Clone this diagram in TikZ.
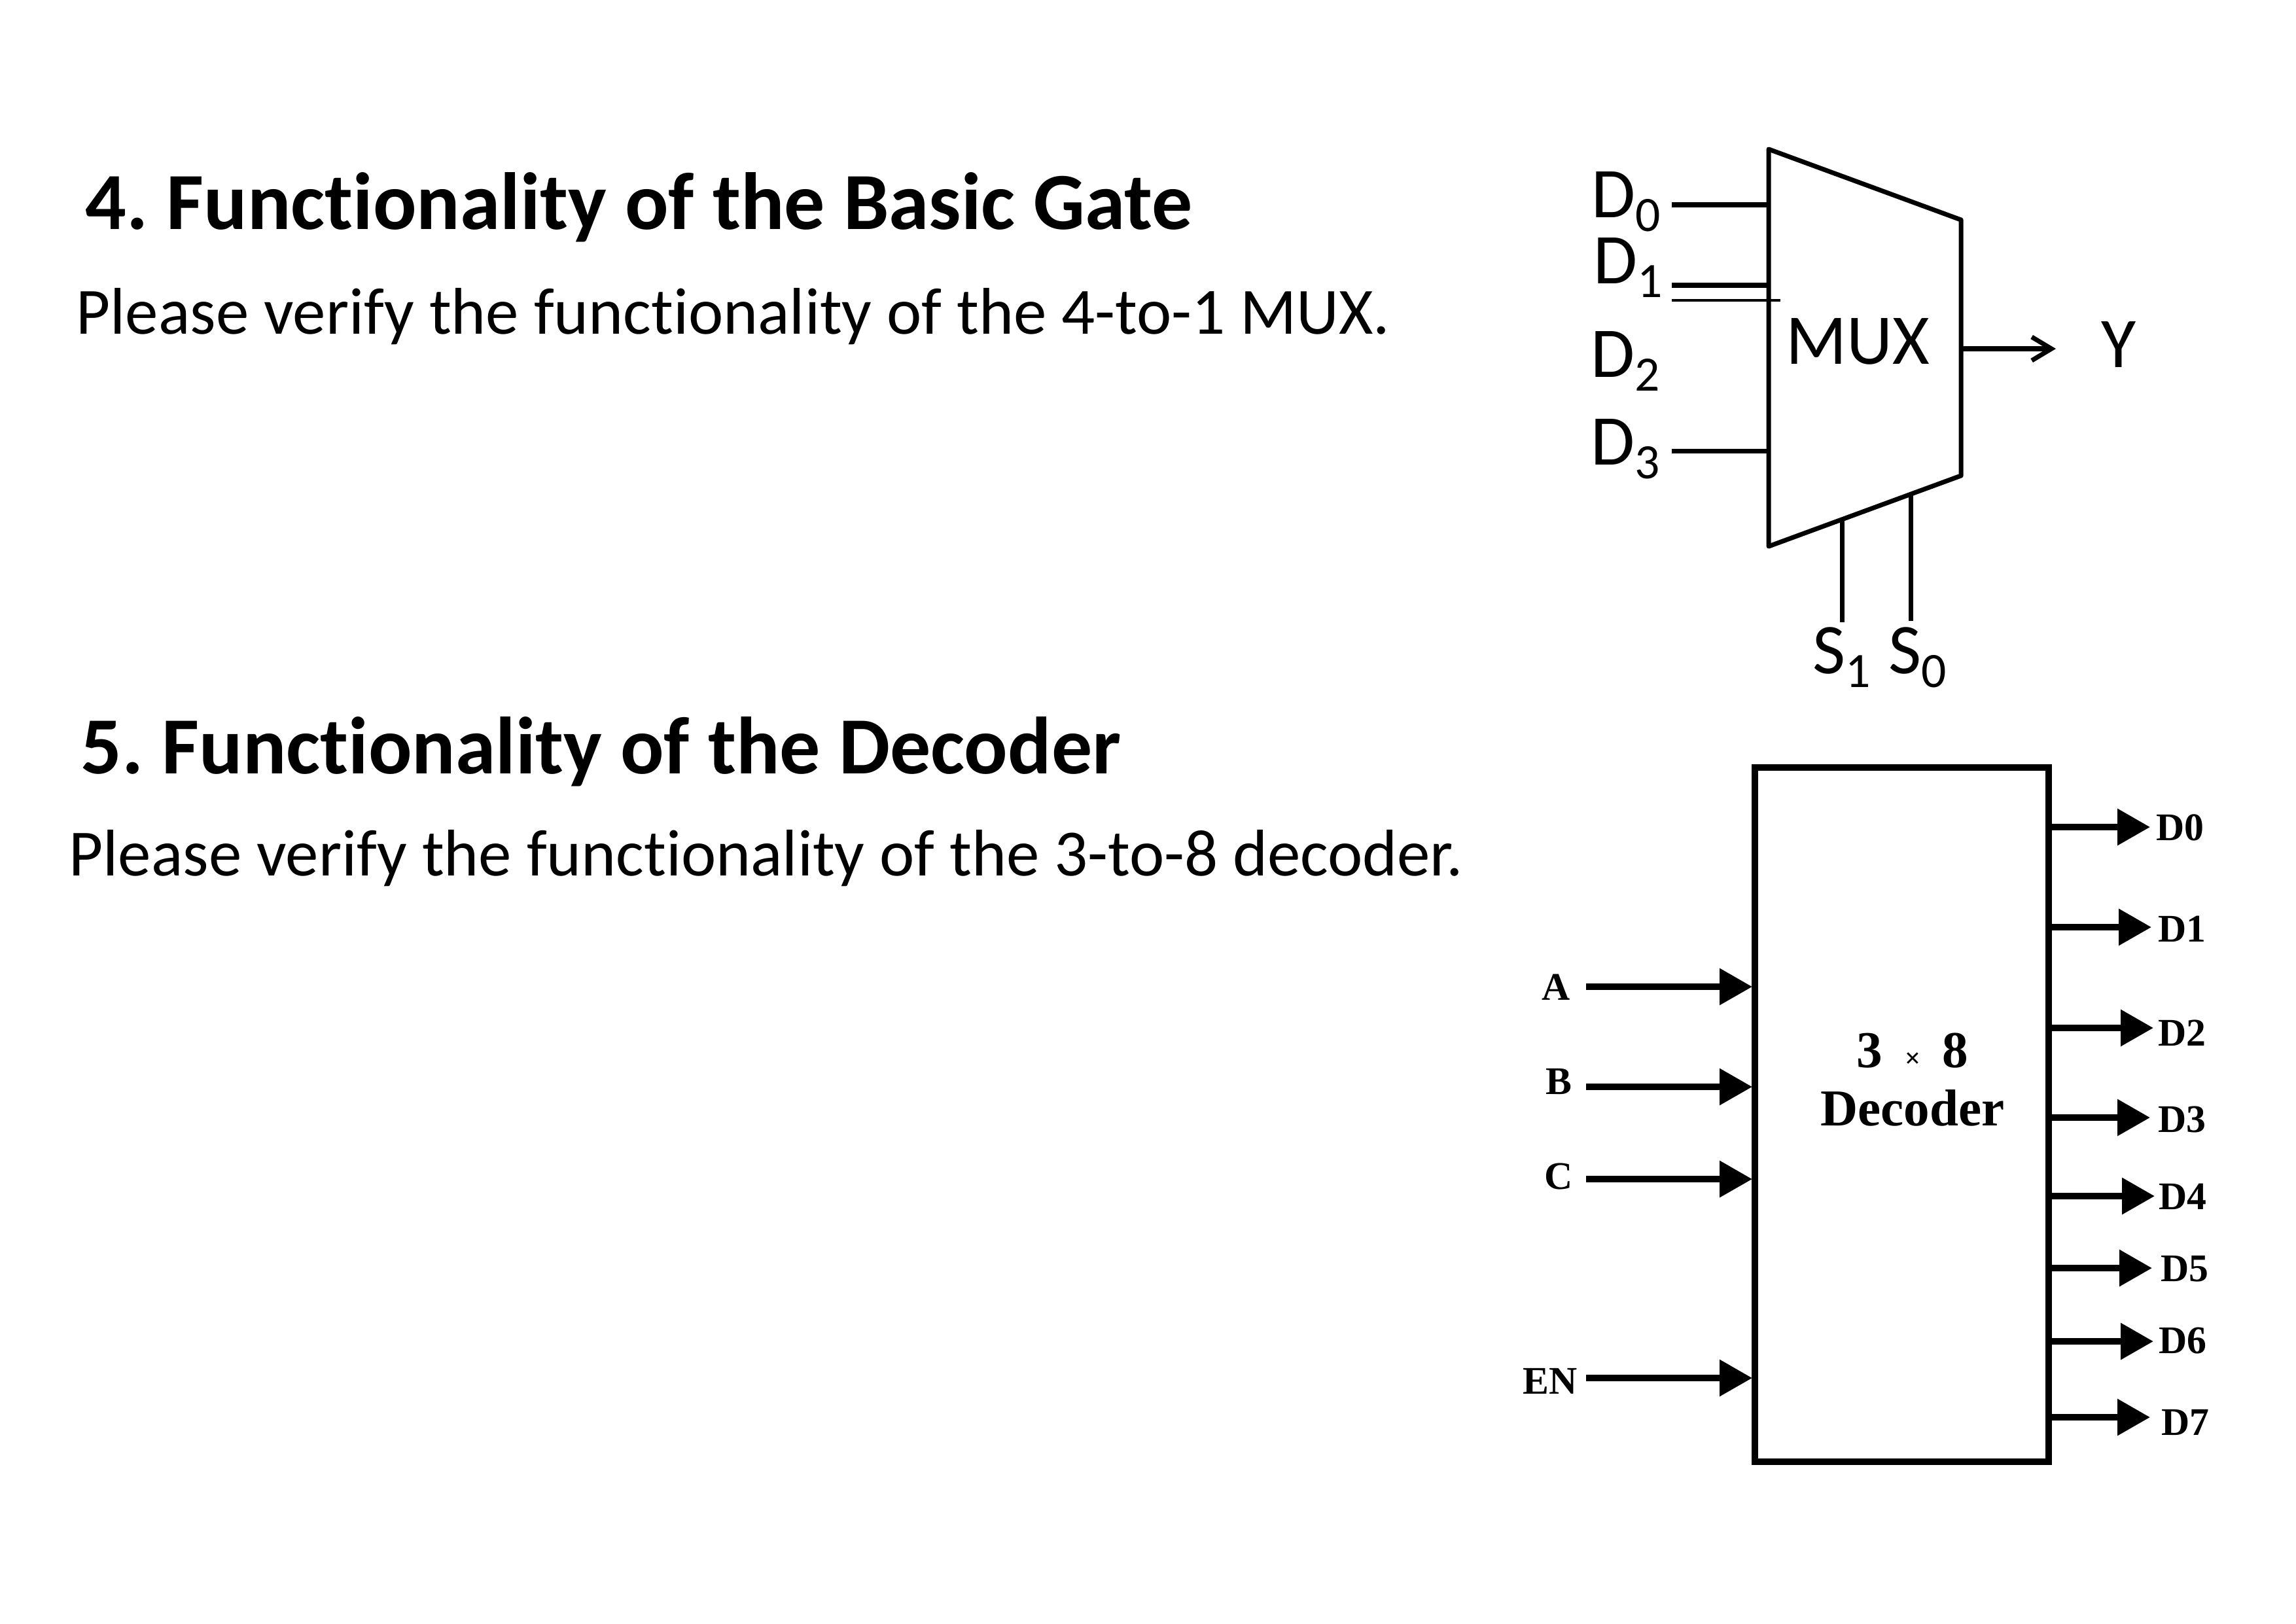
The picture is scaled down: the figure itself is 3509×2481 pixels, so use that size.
\documentclass[tikz,border=0pt]{standalone}
\usepackage{fontspec}
\setmainfont{Carlito}[Ligatures=NoCommon]
\newfontfamily\decfont{Liberation Serif}
\usetikzlibrary{arrows.meta}
\usetikzlibrary{positioning}
\newcommand{\sublabel}[2]{#1\raisebox{-0.2em}{\fontsize{21.5pt}{23pt}\selectfont #2}}

\tikzset{
    heading/.style={anchor=base west, inner sep=0pt, font=\fontsize{35.25pt}{37pt}\selectfont\bfseries},
    bodytext/.style={anchor=base west, inner sep=0pt, font=\fontsize{28.7pt}{30pt}\selectfont},
    muxlabel/.style={anchor=base west, inner sep=0pt, font=\fontsize{31pt}{34pt}\selectfont},
    muxline/.style={line width=2pt},
    declabel/.style={anchor=base west, inner sep=0pt, font=\decfont\fontsize{17pt}{19pt}\selectfont\bfseries},
    decarrow/.style={line width=2.8pt, -{Triangle[length=0.5cm, width=0.54cm]}, shorten >=0pt}
}

\begin{document}
\begin{tikzpicture}[x=0.01cm, y=-0.01cm]
    \useasboundingbox (0,0) rectangle (3509,2481);

    \node[heading] (title4) at (130,350) {4.\ Functionality of the Basic Gate};
    \node[bodytext] (text4) at (116,510) {Please verify the functionality of the 4-to-1 MUX.};
    \node[heading] (title5) at (123,1182) {5.\ Functionality of the Decoder};
    \node[bodytext] (text5) at (105,1338) {Please verify the functionality of the 3-to-8 decoder.};

    % MUX
    \coordinate (muxtl) at (2703,228);
    \coordinate (muxtr) at (2997,336);
    \coordinate (muxbr) at (2997,727);
    \coordinate (muxbl) at (2703,835);
    \draw[muxline, line join=round] (muxtl) -- (muxtr) -- (muxbr) -- (muxbl) -- cycle;
    \node[muxlabel] (muxname) at (2729,556) {MUX};

    \node[muxlabel] (d0) at (2432,332) {\sublabel{D}{0}};
    \node[muxlabel] (d1) at (2435,433) {\sublabel{D}{1}};
    \node[muxlabel] (d2) at (2431,576) {\sublabel{D}{2}};
    \node[muxlabel] (d3) at (2431,710) {\sublabel{D}{3}};
    \node[muxlabel] (s1) at (2770,1029) {\sublabel{S}{1}};
    \node[muxlabel] (s0) at (2886,1029) {\sublabel{S}{0}};
    \node[muxlabel] (y) at (3211,561) {Y};

    \coordinate (d0a) at (2555,313);
    \coordinate (d0b) at (2703,313);
    \coordinate (d1a) at (2555,436);
    \coordinate (d1b) at (2703,436);
    \coordinate (d1c) at (2555,459);
    \coordinate (d1d) at (2721,459);
    \coordinate (d3a) at (2555,689);
    \coordinate (d3b) at (2703,689);
    \coordinate (s1a) at (2815,951);
    \coordinate (s1b) at (2815,794);
    \coordinate (s0a) at (2920,949);
    \coordinate (s0b) at (2920,755);
    \coordinate (ya) at (2997,533);
    \coordinate (yb) at (3142,533);

    \draw[muxline] (d0a) -- (d0b);
    \draw[muxline] (d1a) -- (d1b);
    \draw[line width=1.3pt] (d1c) -- (d1d);
    \draw[muxline] (d3a) -- (d3b);
    \draw[muxline] (s1a) -- (s1b);
    \draw[muxline] (s0a) -- (s0b);
    \draw[muxline, -{Straight Barb[length=0.3cm, width=0.36cm]}] (ya) -- (yb);

    % decoder
    \node[draw, line width=2.8pt, minimum width=4.49cm, minimum height=10.61cm, inner sep=0pt] (dec) at (2906.5,1703.5) {};
    \node[align=center, inner sep=0pt, font=\decfont\fontsize{22.5pt}{25.5pt}\selectfont\bfseries] (decname) at (2923,1650) {3 {\fontsize{12pt}{12pt}\selectfont\,\,×\,\,} 8\\Decoder};

    \foreach \name/\ypos/\lx/\ly in {A/1508/2356/1528, B/1661/2362/1672, C/1802/2360/1817, EN/2106/2327/2130} {
        \node[declabel] (in\name) at (\lx,\ly) {\name};
        \coordinate (from\name) at (2424,\ypos);
        \coordinate (to\name) at (2678,\ypos);
        \draw[decarrow] (from\name) -- (to\name);
    }

    \foreach \name/\ypos/\tip/\lx/\ly in {D0/1264/3286/3295/1284, D1/1417/3288/3298/1439, D2/1571/3291/3298/1598, D3/1708/3286/3298/1730, D4/1828/3293/3299/1848, D5/1938/3289/3302/1958, D6/2050/3291/3299/2068, D7/2166/3286/3303/2193} {
        \node[declabel] (out\name) at (\lx,\ly) {\name};
        \coordinate (from\name) at (3136,\ypos);
        \coordinate (to\name) at (\tip,\ypos);
        \draw[decarrow] (from\name) -- (to\name);
    }
\end{tikzpicture}
\end{document}
